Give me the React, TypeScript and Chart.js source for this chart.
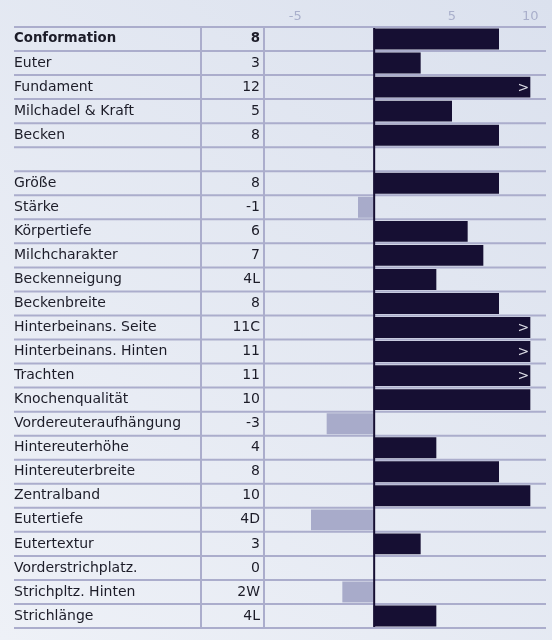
import React, { useEffect, useRef } from 'react';
import { Chart, registerables } from 'chart.js';

Chart.register(...registerables);

const rowLabels = [
  'Conformation', 'Euter', 'Fundament', 'Milchadel & Kraft', 'Becken', '',
  'Größe', 'Stärke', 'Körpertiefe', 'Milchcharakter', 'Beckenneigung', 'Beckenbreite',
  'Hinterbeinans. Seite', 'Hinterbeinans. Hinten', 'Trachten', 'Knochenqualität',
  'Vordereuteraufhängung', 'Hintereuterhöhe', 'Hintereuterbreite', 'Zentralband',
  'Eutertiefe', 'Eutertextur', 'Vorderstrichplatz.', 'Strichpltz. Hinten', 'Strichlänge',
];
const valueLabels = [
  '8', '3', '12', '5', '8', '',
  '8', '-1', '6', '7', '4L', '8',
  '11C', '11', '11', '10',
  '-3', '4', '8', '10',
  '4D', '3', '0', '2W', '4L',
];
const barValues: (number | null)[] = [
  8, 3, 12, 5, 8, null,
  8, -1, 6, 7, 4, 8,
  11, 11, 11, 10,
  -3, 4, 8, 10,
  -4, 3, 0, -2, 4,
];
const xTicks = [-5, 5, 10];
const capValue = 10;
const xMin = -7;
const xMax = 11;

const FONT = 'DejaVu Sans';
const DARK = '#160f33';
const LIGHT = '#a8abca';
const GRID = '#abadcc';
const TEXT = '#1c1c28';

const rowFont = (ctx: any) =>
  ctx.index === 0
    ? { family: FONT, size: 13.3, weight: 'bold' }
    : { family: FONT, size: 14, weight: 'normal' };

export default function App() {
  const ref = useRef<HTMLCanvasElement>(null);

  useEffect(() => {
    if (!ref.current) return;
    const decor = {
      id: 'tableDecor',
      afterDatasetsDraw(chart: any) {
        const { ctx, chartArea, scales } = chart;
        const y = scales.y;
        const yv = scales.yv;
        const x = scales.x;
        const n = rowLabels.length;
        const top = chartArea.top;
        const bottom = chartArea.bottom;
        const rowH = (bottom - top) / n;
        ctx.save();
        ctx.strokeStyle = GRID;
        ctx.lineWidth = 2;
        ctx.beginPath();
        for (let i = 0; i <= n; i++) {
          const yy = top + i * rowH;
          ctx.moveTo(y.left, yy);
          ctx.lineTo(chartArea.right, yy);
        }
        ctx.moveTo(yv.left, top + 1);
        ctx.lineTo(yv.left, bottom - 1);
        ctx.moveTo(chartArea.left, top + 1);
        ctx.lineTo(chartArea.left, bottom - 1);
        ctx.stroke();

        const x0 = x.getPixelForValue(0) + 0.5;
        ctx.strokeStyle = DARK;
        ctx.beginPath();
        ctx.moveTo(x0, top + 1);
        ctx.lineTo(x0, bottom - 1);
        ctx.stroke();

        ctx.fillStyle = '#dcdce6';
        ctx.font = `14px "${FONT}"`;
        ctx.textAlign = 'right';
        ctx.textBaseline = 'middle';
        barValues.forEach((v, i) => {
          if (v != null && v > capValue) {
            ctx.fillText('>', x.getPixelForValue(capValue) - 1, y.getPixelForValue(i) + 1);
          }
        });
        ctx.restore();
      },
    };

    const chart = new Chart(ref.current, {
      type: 'bar',
      data: {
        labels: rowLabels,
        datasets: [
          {
            data: barValues.map((v) => (v == null ? null : Math.min(v, capValue))) as any,
            backgroundColor: barValues.map((v) => (v != null && v < 0 ? LIGHT : DARK)),
            borderWidth: 0,
            barPercentage: 0.87,
            categoryPercentage: 1,
            yAxisID: 'y',
            xAxisID: 'x',
          },
        ],
      },
      options: {
        indexAxis: 'y',
        animation: false,
        responsive: true,
        maintainAspectRatio: false,
        layout: { padding: { left: 14, right: 6, top: 0, bottom: 7 } },
        plugins: { legend: { display: false }, tooltip: { enabled: false } },
        scales: {
          x: {
            type: 'linear',
            position: 'top',
            min: xMin,
            max: xMax,
            grid: { display: false, drawTicks: false },
            border: { display: false },
            ticks: {
              color: '#a9afcb',
              font: { family: FONT, size: 13 },
              padding: 3,
            },
            afterBuildTicks: (scale: any) => {
              scale.ticks = xTicks.map((v) => ({ value: v }));
            },
            afterFit: (scale: any) => {
              scale.height = 27;
            },
          },
          y: {
            type: 'category',
            position: 'left',
            weight: 1,
            offset: true,
            grid: { display: false, drawTicks: false },
            border: { display: false },
            ticks: {
              autoSkip: false,
              crossAlign: 'far',
              padding: 0,
              color: TEXT,
              font: rowFont,
            },
            afterFit: (scale: any) => {
              scale.width = 187;
            },
          },
          yv: {
            type: 'category',
            position: 'left',
            weight: 0,
            offset: true,
            labels: valueLabels,
            grid: { display: false, drawTicks: false },
            border: { display: false },
            ticks: {
              autoSkip: false,
              crossAlign: 'near',
              padding: 4,
              color: TEXT,
              font: rowFont,
            },
            afterFit: (scale: any) => {
              scale.width = 63;
            },
          },
        } as any,
      },
      plugins: [decor],
    });
    return () => chart.destroy();
  }, []);

  return (
    <div
      style={{
        position: 'fixed',
        left: 0,
        top: 0,
        width: 552,
        height: 640,
        background: 'linear-gradient(45deg, #eef1f7 0%, #dbe1ee 100%)',
      }}
    >
      <canvas ref={ref} />
    </div>
  );
}
